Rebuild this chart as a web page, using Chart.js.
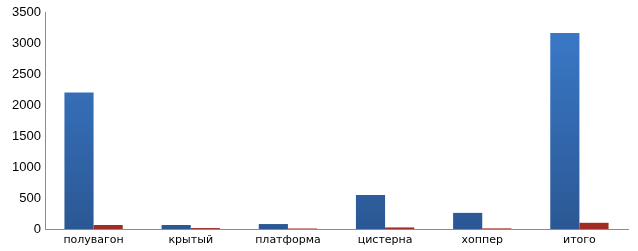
<!DOCTYPE html>
<html>
<head>
<meta charset="utf-8">
<script src="https://cdn.jsdelivr.net/npm/chart.js@4"></script>
<style>
  html, body { margin: 0; padding: 0; background: #fff; }
  #wrap { width: 638px; height: 251px; position: relative; }
</style>
</head>
<body>
<div id="wrap"><canvas id="chart"></canvas></div>
<script>
/* ---- Data ---- */
const CATEGORIES = ['полувагон', 'крытый', 'платформа', 'цистерна', 'хоппер', 'итого'];
const SERIES_A   = [2200, 65, 80, 550, 260, 3160];
const SERIES_B   = [65, 15, 8, 25, 10, 100];
const Y_TICKS    = [0, 500, 1000, 1500, 2000, 2500, 3000, 3500];

/* ---- Gradient fill per series ---- */
function grad(top, bottom) {
  return ctx => {
    const area = ctx.chart.chartArea;
    if (!area) return top;
    const g = ctx.chart.ctx.createLinearGradient(0, area.top, 0, area.bottom);
    g.addColorStop(0, top);
    g.addColorStop(1, bottom);
    return g;
  };
}

new Chart(document.getElementById('chart'), {
  type: 'bar',
  data: {
    labels: CATEGORIES,
    datasets: [
      { data: SERIES_A, backgroundColor: grad('#3b7bcc', '#2b5894'), categoryPercentage: 0.6, barPercentage: 1 },
      { data: SERIES_B, backgroundColor: grad('#c8392e', '#a02c24'), categoryPercentage: 0.6, barPercentage: 1 }
    ]
  },
  options: {
    responsive: true,
    maintainAspectRatio: false,
    animation: false,
    layout: { padding: { top: 12, right: 10, left: 0, bottom: 0 } },
    plugins: { legend: { display: false }, tooltip: { enabled: false } },
    scales: {
      x: {
        afterFit: axis => { axis.height = 22; },
        grid: { display: false, drawTicks: false },
        border: { color: '#8c8c8c', width: 1 },
        ticks: { color: '#000', font: { family: 'DejaVu Sans', size: 11 }, padding: 5 }
      },
      y: {
        min: 0, max: 3500,
        afterBuildTicks: axis => { axis.ticks = Y_TICKS.map(v => ({ value: v })); },
        afterFit: axis => { axis.width = 45; },
        grid: { display: false, drawTicks: false },
        border: { color: '#8c8c8c', width: 1 },
        ticks: { color: '#000', font: { family: 'Liberation Sans', size: 13 }, padding: 4, callback: v => String(v) }
      }
    }
  }
});
</script>
</body>
</html>
